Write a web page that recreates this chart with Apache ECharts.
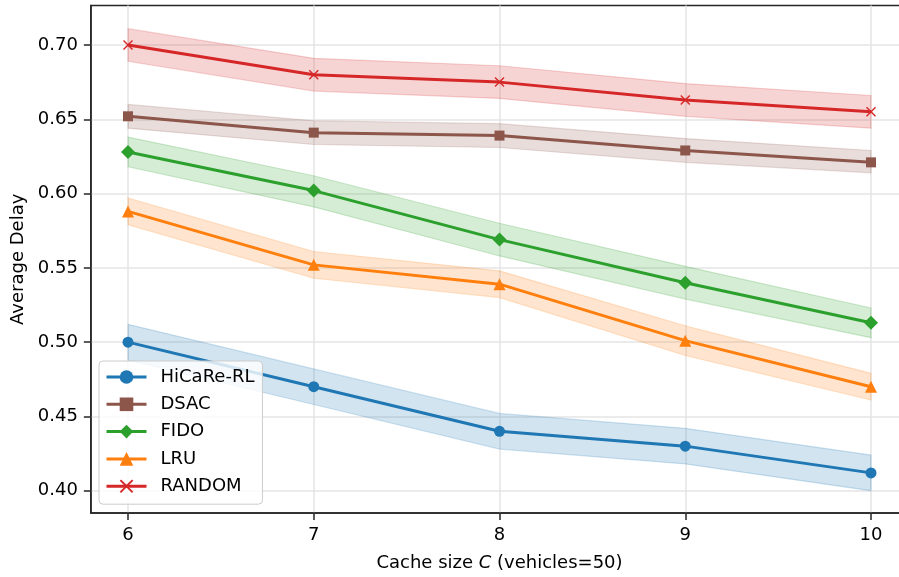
<!DOCTYPE html>
<html>
<head>
<meta charset="utf-8">
<script src="https://cdn.jsdelivr.net/npm/echarts@6/dist/echarts.min.js"></script>
<style>html,body{margin:0;padding:0;background:#fff}#c{width:899px;height:577px}</style>
</head>
<body>
<div id="c"></div>
<script>
// ---- data ----
const cacheSizes = [6, 7, 8, 9, 10];
const yTicks = [0.40, 0.45, 0.50, 0.55, 0.60, 0.65, 0.70];

const names = ['HiCaRe-RL', 'DSAC', 'FIDO', 'LRU', 'RANDOM'];

const hicareMean  = [0.500, 0.470, 0.440, 0.430, 0.412];
const hicareLow   = [0.488, 0.458, 0.428, 0.418, 0.400];
const hicareHigh  = [0.512, 0.482, 0.452, 0.442, 0.424];

const dsacMean    = [0.652, 0.641, 0.639, 0.629, 0.621];
const dsacLow     = [0.644, 0.633, 0.631, 0.621, 0.614];
const dsacHigh    = [0.660, 0.649, 0.647, 0.637, 0.629];

const fidoMean    = [0.628, 0.602, 0.569, 0.540, 0.513];
const fidoLow     = [0.618, 0.591, 0.558, 0.529, 0.503];
const fidoHigh    = [0.638, 0.612, 0.580, 0.551, 0.523];

const lruMean     = [0.588, 0.552, 0.539, 0.501, 0.470];
const lruLow      = [0.579, 0.543, 0.530, 0.491, 0.461];
const lruHigh     = [0.597, 0.561, 0.548, 0.511, 0.479];

const randomMean  = [0.700, 0.680, 0.675, 0.663, 0.655];
const randomLow   = [0.689, 0.669, 0.664, 0.652, 0.644];
const randomHigh  = [0.711, 0.691, 0.686, 0.674, 0.666];

// ---- styles ----
const colors = ['#1f77b4', '#8c564b', '#2ca02c', '#ff7f0e', '#d62728'];
const fills  = ['rgba(31,119,180,0.2)', 'rgba(140,86,75,0.2)', 'rgba(44,160,44,0.2)', 'rgba(255,127,14,0.2)', 'rgba(214,39,40,0.2)'];
const xPath = 'path://M1,0 L5,4 L9,0 L10,1 L6,5 L10,9 L9,10 L5,6 L1,10 L0,9 L4,5 L0,1 Z';
const symbols = ['circle', 'rect', 'diamond', 'triangle', xPath];
const symbolSizes = [11, 10, [14, 14], 12, 10];

const means = [hicareMean, dsacMean, fidoMean, lruMean, randomMean];
const lows  = [hicareLow, dsacLow, fidoLow, lruLow, randomLow];
const highs = [hicareHigh, dsacHigh, fidoHigh, lruHigh, randomHigh];

const FONT = 'DejaVu Sans';
const FS = 18;

const series = [];
names.forEach((n, k) => {
  series.push({
    name: n + ' band',
    type: 'custom',
    silent: true,
    z: 1,
    data: cacheSizes.map((x, i) => [x, lows[k][i], highs[k][i]]),
    encode: { x: 0, y: [1, 2] },
    renderItem: function (params, api) {
      if (params.dataIndex !== 0) return null;
      const top = cacheSizes.map((x, i) => api.coord([x, highs[k][i]]));
      const bot = cacheSizes.map((x, i) => api.coord([x, lows[k][i]])).reverse();
      return {
        type: 'polygon',
        shape: { points: top.concat(bot) },
        style: { fill: fills[k], stroke: fills[k], lineWidth: 1.2 }
      };
    }
  });
});
names.forEach((n, k) => {
  series.push({
    name: n,
    type: 'line',
    z: 3,
    data: cacheSizes.map((x, i) => [x, means[k][i]]),
    symbol: symbols[k],
    symbolSize: symbolSizes[k],
    showAllSymbol: true,
    color: colors[k],
    itemStyle: { color: colors[k] },
    lineStyle: { color: colors[k], width: 3 }
  });
});

const chart = echarts.init(document.getElementById('c'), null, { renderer: 'canvas' });
chart.setOption({
  animation: false,
  backgroundColor: '#fff',
  textStyle: { fontFamily: FONT },
  grid: {
    left: 90.85, right: -9.15, top: 5.6, bottom: 64,
    containLabel: false,
    outerBoundsMode: 'none',
    show: true, borderColor: '#262626', borderWidth: 1.5, backgroundColor: 'transparent'
  },
  legend: {
    data: names,
    orient: 'vertical',
    left: 99, top: 361,
    padding: [6, 8, 8, 6],
    itemWidth: 40, itemHeight: 17,
    itemGap: 7.3,
    backgroundColor: 'rgba(255,255,255,0.8)',
    borderColor: '#cccccc', borderWidth: 1, borderRadius: 4,
    lineStyle: { width: 3 },
    textStyle: { fontFamily: FONT, fontSize: FS, color: '#000', lineHeight: 20, padding: [0, 0, 0, 9] }
  },
  xAxis: {
    type: 'value',
    min: 5.8, max: 10.2,
    name: 'Cache size {i|C} (vehicles=50)',
    nameLocation: 'middle',
    nameGap: 41,
    nameTextStyle: {
      fontFamily: FONT, fontSize: FS, color: '#000',
      rich: { i: { fontFamily: FONT, fontSize: FS, fontStyle: 'italic', color: '#000' } }
    },
    axisLine: { show: true, lineStyle: { color: '#262626', width: 1.5 } },
    axisTick: { show: true, length: 7, customValues: cacheSizes, lineStyle: { color: '#262626', width: 1.5 } },
    axisLabel: { customValues: cacheSizes, margin: 13, fontFamily: FONT, fontSize: FS, color: '#000' },
    splitLine: { show: true, lineStyle: { color: '#e5e5e5', width: 1.5 } }
  },
  yAxis: {
    type: 'value',
    min: 0.385, max: 0.7265,
    name: 'Average Delay',
    nameLocation: 'middle',
    nameGap: 63,
    nameTextStyle: { fontFamily: FONT, fontSize: FS, color: '#000' },
    axisLine: { show: true, lineStyle: { color: '#262626', width: 1.5 } },
    axisTick: { show: true, length: 7, customValues: yTicks, lineStyle: { color: '#262626', width: 1.5 } },
    axisLabel: { customValues: yTicks, margin: 13, fontFamily: FONT, fontSize: FS, color: '#000',
      formatter: v => v.toFixed(2) },
    splitLine: { show: true, lineStyle: { color: '#e5e5e5', width: 1.5 } }
  },
  series: series
});
</script>
</body>
</html>
